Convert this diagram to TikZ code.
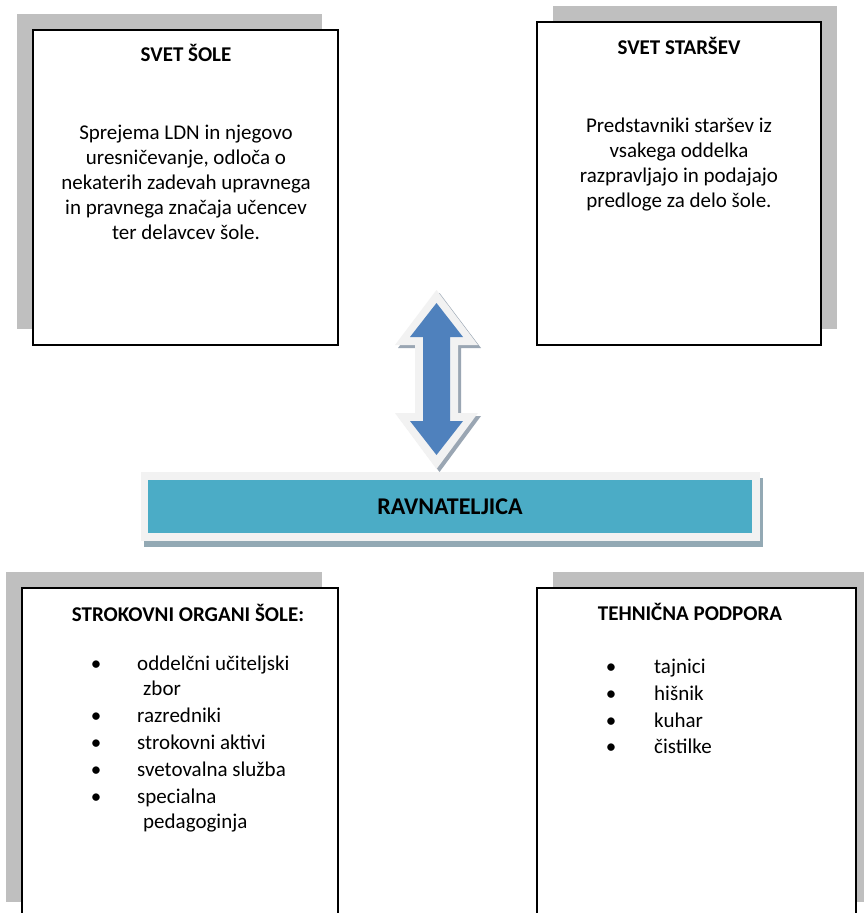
\documentclass[tikz,border=0pt]{standalone}
\usepackage{fontspec}
\setmainfont{Carlito}
\usetikzlibrary{shadows}
\definecolor{boxshadow}{HTML}{BFBFBF}
\definecolor{framegray}{HTML}{F2F2F2}
\definecolor{barblue}{HTML}{4BACC6}
\definecolor{barshadow}{HTML}{93A9B4}
\definecolor{arrowblue}{HTML}{4F81BD}
\definecolor{arrowshadow}{HTML}{9AA6B3}
\begin{document}
\begin{tikzpicture}[x=1pt,y=-1pt,
  orgbox/.style={draw=black,line width=1.5pt,fill=white,rectangle,inner sep=0pt},
  shadowleft/.style={general shadow={fill=boxshadow,shadow xshift=-16pt,shadow yshift=16pt}},
  shadowright/.style={general shadow={fill=boxshadow,shadow xshift=16pt,shadow yshift=16pt}},
  titletext/.style={font=\fontsize{21}{25}\selectfont\bfseries,inner sep=0pt,anchor=base},
  bodytext/.style={font=\fontsize{21}{25}\selectfont,align=center,inner sep=0pt},
  itemtext/.style={font=\fontsize{21}{25}\selectfont,inner sep=0pt,anchor=base west},
  bulletdot/.style={font=\fontsize{21}{25}\selectfont,inner sep=0pt,anchor=base}]
\useasboundingbox (0,0) rectangle (864,913);
\clip (0,0) rectangle (864,913);
\fill[white] (0,0) rectangle (864,913);

% top boxes
\node[orgbox,shadowleft,minimum width=305pt,minimum height=315pt] (sola) at (185.5,187.5) {};
\node[orgbox,shadowright,minimum width=284pt,minimum height=323pt] (starsi) at (679,183.5) {};
% bottom boxes
\node[orgbox,shadowleft,minimum width=316pt,minimum height=330pt] (strokovni) at (180,753) {};
\node[orgbox,shadowright,minimum width=319pt,minimum height=330pt] (tehnicna) at (696.5,753) {};

% texts top left
\node[titletext] (solatitle) at (186,61) {SVET ŠOLE};
\node[bodytext] (solabody) at (186,182.5) {Sprejema LDN in njegovo\\uresničevanje, odloča o\\nekaterih zadevah upravnega\\in pravnega značaja učencev\\ter delavcev šole.};

% texts top right
\node[titletext] (starsititle) at (679,54) {SVET STARŠEV};
\node[bodytext] (starsibody) at (679,165) {Predstavniki staršev iz\\vsakega oddelka\\razpravljajo in podajajo\\predloge za delo šole.};

% texts bottom left
\node[titletext] (strokovnititle) at (188,621) {STROKOVNI ORGANI ŠOLE:};
\node[bulletdot] (b1) at (96,670) {•};
\node[itemtext] (i1) at (137,670) {oddelčni učiteljski};
\node[itemtext] (i1b) at (143,695) {zbor};
\node[bulletdot] (b2) at (96,722) {•};
\node[itemtext] (i2) at (137,722) {razredniki};
\node[bulletdot] (b3) at (96,749) {•};
\node[itemtext] (i3) at (137,749) {strokovni aktivi};
\node[bulletdot] (b4) at (96,776) {•};
\node[itemtext] (i4) at (137,776) {svetovalna služba};
\node[bulletdot] (b5) at (96,803) {•};
\node[itemtext] (i5) at (137,803) {specialna};
\node[itemtext] (i5b) at (143,828) {pedagoginja};

% texts bottom right
\node[titletext] (tehnicnatitle) at (690,620) {TEHNIČNA PODPORA};
\node[bulletdot] (t1b) at (611,673) {•};
\node[itemtext] (t1) at (654,673) {tajnici};
\node[bulletdot] (t2b) at (611,700) {•};
\node[itemtext] (t2) at (654,700) {hišnik};
\node[bulletdot] (t3b) at (611,727) {•};
\node[itemtext] (t3) at (654,727) {kuhar};
\node[bulletdot] (t4b) at (611,753) {•};
\node[itemtext] (t4) at (654,753) {čistilke};

% double block arrow
\fill[arrowshadow,shift={(3,3)}] (436.5,290) -- (478,345) -- (458,345) -- (458,413) -- (478,413) -- (436.5,469) -- (395,413) -- (415,413) -- (415,345) -- (395,345) -- cycle;
\fill[framegray] (436.5,290) -- (478,345) -- (458,345) -- (458,413) -- (478,413) -- (436.5,469) -- (395,413) -- (415,413) -- (415,345) -- (395,345) -- cycle;
\fill[arrowblue] (436.5,303) -- (463,337) -- (450,337) -- (450,421) -- (463,421) -- (436.5,455) -- (410,421) -- (423,421) -- (423,337) -- (410,337) -- cycle;

% director bar
\node[fill=framegray,inner sep=0pt,minimum width=619pt,minimum height=69pt,
  general shadow={fill=barshadow,shadow xshift=3pt,shadow yshift=-6pt}] (barframe) at (450.5,506.5) {};
\node[fill=barblue,inner sep=0pt,minimum width=604pt,minimum height=53pt,
  font=\fontsize{24}{28}\selectfont\bfseries] (ravnateljica) at (450,506.5) {RAVNATELJICA};
\end{tikzpicture}
\end{document}
